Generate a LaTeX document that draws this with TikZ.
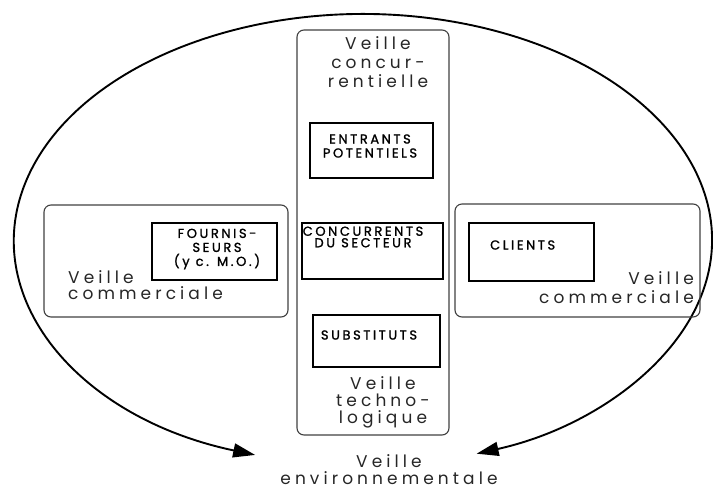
\documentclass[tikz,border=0pt]{standalone}
\usepackage{fontspec}
\setmainfont{Poppins}
\newfontfamily\thinfont{Poppins}[LetterSpace=24]
\newfontfamily\capfont{Poppins}[LetterSpace=20, FakeBold=1.3]
\usetikzlibrary{arrows.meta}
\begin{document}
\begin{tikzpicture}[x=1pt,y=-1pt,
  zone/.style={draw=black!75, line width=1.1pt, rounded corners=7pt, minimum width=#1},
  actor/.style={draw, line width=2.4pt, minimum width=#1},
  veille/.style={font=\thinfont\fontsize{17}{19}\selectfont, text=black!85, inner sep=0pt, align=center},
  caps/.style={font=\capfont\fontsize{13}{14}\selectfont, inner sep=0pt, align=center},
  tip/.tip={Triangle[length=22pt,width=14pt]}
]
\useasboundingbox (0,0) rectangle (713,491);

% outer ring: environmental watch
\coordinate (ctr) at (363,240);
\path (ctr) ++(-252:349 and 226) coordinate (arcL);
\draw[line width=1.9pt, tip-tip] (arcL) arc[start angle=-252, end angle=71, x radius=349, y radius=226];

% central column: competitive and technological watch
\node[zone=152pt, minimum height=405pt] (colonne) at (373,232.5) {};
\node[veille] (vconc) at (378,62) {Veille\\concur-\\rentielle};
\node[actor=123pt, minimum height=55pt] (entrants) at (371.5,150.5) {};
\node[caps] (tentrants) at (370,146) {ENTRANTS\\POTENTIELS};
\node[actor=141pt, minimum height=56pt] (concurrents) at (372.5,251) {};
\node[caps, font=\capfont\fontsize{13}{11.5}\selectfont] (tconcurrents) at (363,237) {CONCURRENTS\\DU SECTEUR};
\node[actor=127pt, minimum height=52pt] (substituts) at (376.5,341) {};
\node[caps] (tsubstituts) at (369,335) {SUBSTITUTS};
\node[veille, font=\thinfont\fontsize{17}{17}\selectfont] (vtechno) at (383,402) {Veille\\techno-\\logique};

% left side: suppliers
\node[zone=244pt, minimum height=112pt] (gauche) at (166,261) {};
\node[actor=125pt, minimum height=57pt] (fournisseurs) at (214.5,251.5) {};
\node[caps] (tfournisseurs) at (217,249) {FOURNIS-\\SEURS\\(y c. M.O.)};
\node[veille, align=left, anchor=west, font=\thinfont\fontsize{17}{16}\selectfont] (vcomG) at (68,285) {Veille\\commerciale};

% right side: customers
\node[zone=245pt, minimum height=113pt] (droite) at (577.5,260.5) {};
\node[actor=125pt, minimum height=58pt] (clients) at (531.5,252) {};
\node[caps, anchor=west] (tclients) at (490,245) {CLIENTS};
\node[veille, align=right, anchor=east] (vcomD) at (694,287.5) {Veille\\commerciale};

% caption under the ring
\node[veille, font=\thinfont\fontsize{17}{17}\selectfont] (venv) at (389,470) {Veille\\environnementale};
\end{tikzpicture}
\end{document}
